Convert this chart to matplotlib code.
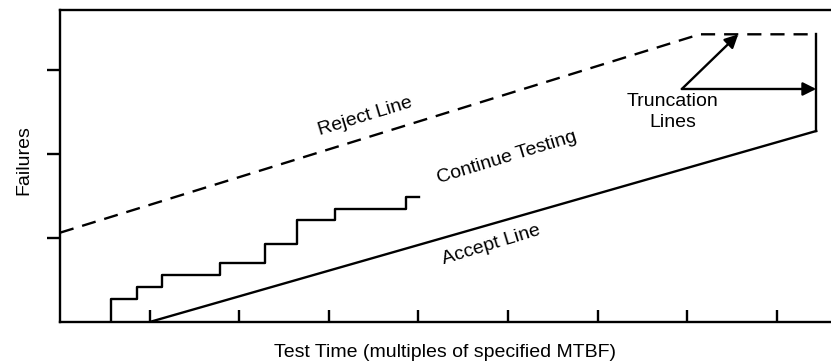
import matplotlib
matplotlib.use("Agg")
import matplotlib.pyplot as plt

plt.rcParams['font.family'] = ['Liberation Sans', 'DejaVu Sans']

# boundary lines (test time, failures)
reject_x = [0.0, 7.14, 8.44]
reject_y = [1.063, 3.425, 3.425]
accept_x = [1.0, 8.44]
accept_y = [0.0, 2.274]
trunc_x = [8.44, 8.44]
trunc_y = [3.425, 2.274]

# observed failures staircase
step_x = [0.569, 0.856, 1.142, 1.786, 2.285, 2.642, 3.069, 3.862, 4.007]
step_y = [0.0, 0.277, 0.420, 0.563, 0.706, 0.923, 1.211, 1.349, 1.492]

xticks = [1, 2, 3, 4, 5, 6, 7, 8]
yticks = [1, 2, 3]

fig = plt.figure(figsize=(8.31, 3.64), dpi=100)
ax = fig.add_axes([60/831, 42/364, 771/831, 312/364])

lw = 1.7
ax.plot(reject_x, reject_y, color='black', lw=lw, dashes=(6, 3.8))
ax.plot(accept_x, accept_y, color='black', lw=lw)
ax.plot(trunc_x, trunc_y, color='black', lw=lw)

# staircase: vertical rise at each x, then horizontal to next x
sx, sy = [step_x[0]], [step_y[0]]
for i in range(1, len(step_x)):
    sx.append(step_x[i - 1]); sy.append(step_y[i])
    sx.append(step_x[i]); sy.append(step_y[i])
ax.plot(sx, sy, color='black', lw=lw)

arrow = dict(arrowstyle='-|>', color='black', lw=lw, mutation_scale=20, shrinkA=0, shrinkB=0)
ax.annotate('', xy=(7.57, 3.425), xytext=(6.94, 2.774), arrowprops=arrow)
ax.annotate('', xy=(8.44, 2.774), xytext=(6.94, 2.774), arrowprops=arrow)

fs = 14
ax.text(3.404, 2.44, 'Reject Line', rotation=17, ha='center', va='center', fontsize=fs)
ax.text(4.989, 1.952, 'Continue Testing', rotation=17, ha='center', va='center', fontsize=fs)
ax.text(4.81, 0.917, 'Accept Line', rotation=17, ha='center', va='center', fontsize=fs)
ax.text(6.84, 2.50, 'Truncation\nLines', ha='center', va='center', fontsize=fs, linespacing=1.3)

ax.set_xlim(0, 771/89.6)
ax.set_ylim(0, 312/84)
ax.set_xticks(xticks)
ax.set_yticks(yticks)
ax.set_xticklabels([])
ax.set_yticklabels([])
ax.tick_params(axis='x', direction='in', length=9, width=lw)
ax.tick_params(axis='y', direction='out', length=9.5, width=lw)
ax.spines['right'].set_visible(False)
for s in ['left', 'top', 'bottom']:
    ax.spines[s].set_linewidth(lw)

ax.set_xlabel('Test Time (multiples of specified MTBF)', fontsize=fs, labelpad=12)
ax.set_ylabel('Failures', fontsize=fs)
ax.yaxis.set_label_coords(-28/771, 0.52)

fig.savefig('out.png', dpi=100)
